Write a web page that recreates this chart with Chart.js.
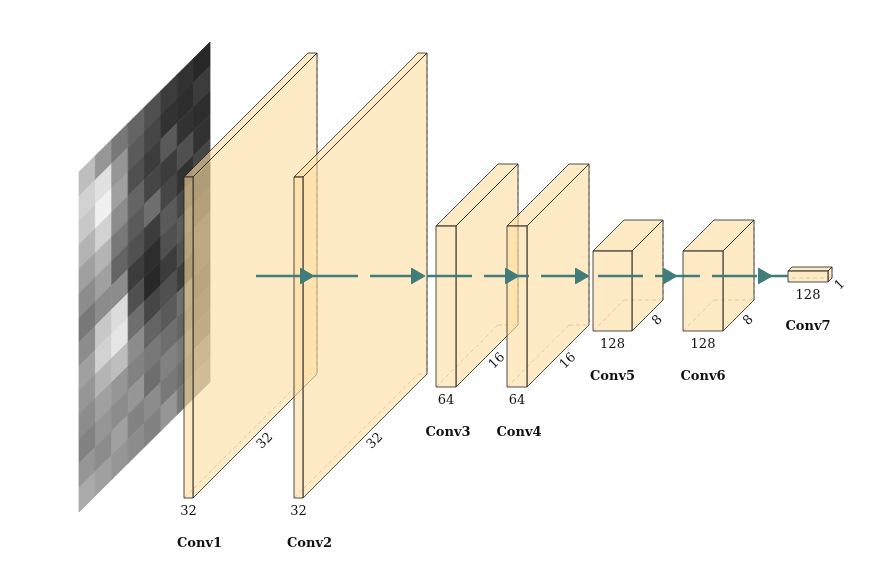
<!DOCTYPE html>
<html><head><meta charset="utf-8">
<script src="https://cdn.jsdelivr.net/npm/chart.js@4.4.1/dist/chart.umd.min.js"></script>
<style>html,body{margin:0;padding:0;background:#fff}#c{width:883px;height:570px}</style>
</head><body><div id="c"><canvas id="cv" width="883" height="570"></canvas></div>
<script>
// layer data: name, front-left x, width, top y, height, depth offset, labels
const layerNames = ['Conv1','Conv2','Conv3','Conv4','Conv5','Conv6','Conv7'];
const layerX     = [184, 294, 436, 507, 593, 683, 788];
const layerW     = [9, 9, 20, 20, 39, 40, 40];
const layerTop   = [177, 177, 226, 226, 251, 251, 271];
const layerH     = [321, 321, 161, 161, 80, 80, 11];
const layerD     = [124, 124, 62, 62, 31, 31, 4];
const sizeLabel  = ['32','32','64','64','128','128','128'];
const depthLabel = ['32','32','16','16','8','8','1'];
const nameY      = [544, 544, 433, 433, 377, 377, 327];
// input image: grey levels (rows top→bottom, cols left→right)
const imgGrey = [
[190,150,120,100,80,60,50,40],
[210,225,150,90,70,50,45,60],
[200,240,160,80,60,90,50,45],
[180,210,140,100,70,60,80,50],
[160,180,120,90,110,70,50,70],
[140,160,100,80,60,90,70,60],
[120,140,140,60,45,80,90,70],
[140,200,220,80,40,60,80,90],
[160,210,230,110,70,80,60,90],
[150,180,190,140,100,90,110,80],
[140,160,150,130,120,110,100,90],
[130,150,140,150,110,130,120,100],
[150,140,160,130,140,120,110,130],
[170,160,150,140,130,150,120,140]];
const imgOrigin = [79,172], imgU = [131,-130], imgV = [0,340];
// arrows
const arrowLineX = [256, 788];
const arrowY = 276;
const arrowHeadX = [305, 416, 510, 580, 668, 763];

const FONT = '"DejaVu Serif", "Liberation Serif", serif';

const drawPlugin = {
  id:'draw',
  beforeDatasetsDraw(chart){
    const ctx = chart.ctx, sx = chart.scales.x, sy = chart.scales.y;
    const P = (x,y)=>[sx.getPixelForValue(x), sy.getPixelForValue(y)];
    const poly = (pts, fill, stroke, dash)=>{
      ctx.beginPath();
      pts.forEach((p,i)=>{const q=P(p[0],p[1]); i?ctx.lineTo(q[0],q[1]):ctx.moveTo(q[0],q[1]);});
      ctx.closePath();
      if(fill){ctx.fillStyle=fill;ctx.fill();}
      if(stroke){ctx.setLineDash(dash||[]);ctx.strokeStyle=stroke;ctx.lineWidth=0.8;ctx.stroke();ctx.setLineDash([]);}
    };
    const seg=(a,b,stroke,dash)=>{
      const p=P(a[0],a[1]),q=P(b[0],b[1]);
      ctx.beginPath();ctx.moveTo(p[0],p[1]);ctx.lineTo(q[0],q[1]);
      ctx.setLineDash(dash||[]);ctx.strokeStyle=stroke;ctx.lineWidth=0.7;ctx.stroke();ctx.setLineDash([]);
    };
    const R=imgGrey.length, C=imgGrey[0].length;
    for(let r=0;r<R;r++)for(let c=0;c<C;c++){
      const pt=(cc,rr)=>[imgOrigin[0]+cc/C*imgU[0]+rr/R*imgV[0], imgOrigin[1]+cc/C*imgU[1]+rr/R*imgV[1]];
      const g=imgGrey[r][c];
      const col=`rgb(${g},${g},${g})`;
      poly([pt(c,r),pt(c+1,r),pt(c+1,r+1),pt(c,r+1)], col, col);
    }
    const fill='rgba(253,222,160,0.6)';
    for(let i=0;i<layerNames.length;i++){
      const x=layerX[i], w=layerW[i], t=layerTop[i], h=layerH[i], d=layerD[i];
      const fTL=[x,t],fTR=[x+w,t],fBR=[x+w,t+h],fBL=[x,t+h];
      const o=(p)=>[p[0]+d,p[1]-d];
      seg(o(fBL),o(fBR),'#888',[4,3]); seg(o(fTR),o(fBR),'#888',[4,3]); seg(fBL,o(fBL),'#888',[4,3]);
      poly([fTL,fTR,o(fTR),o(fTL)],fill,'#222');
      poly([fTR,fBR,o(fBR),o(fTR)],fill,'#222');
      poly([fTL,fTR,fBR,fBL],fill,'#222');
      ctx.fillStyle='#111';ctx.textAlign='center';ctx.textBaseline='middle';
      ctx.font=`13px ${FONT}`;
      const sl=P(x+w/2,t+h+14); ctx.fillText(sizeLabel[i],sl[0],sl[1]);
      const dl=P(x+w+d/2+10,t+h-d/2+5);
      ctx.save();ctx.translate(dl[0],dl[1]);ctx.rotate(-Math.PI/4);ctx.fillText(depthLabel[i],0,0);ctx.restore();
      ctx.font=`bold 13px ${FONT}`;
      const nl=P(x+w/2+(i<2?11:i<4?2:0),nameY[i]); ctx.fillText(layerNames[i],nl[0],nl[1]);
    }
  }
};

new Chart(document.getElementById('cv'),{
  type:'scatter',
  data:{datasets:[
    {type:'line',data:arrowLineX.map(x=>({x,y:arrowY})),borderColor:'#3f7c7a',borderWidth:2.5,borderDash:[45,12],pointRadius:0},
    {data:arrowHeadX.map(x=>({x,y:arrowY})),pointStyle:'triangle',rotation:90,pointRadius:9,backgroundColor:'#3f7c7a',borderColor:'#3f7c7a'}
  ]},
  options:{
    responsive:false,animation:false,
    layout:{padding:0,autoPadding:false},
    plugins:{legend:{display:false},tooltip:{enabled:false}},
    scales:{
      x:{type:'linear',min:0,max:883,display:false},
      y:{type:'linear',min:0,max:570,reverse:true,display:false}
    }
  },
  plugins:[drawPlugin]
});
</script></body></html>
